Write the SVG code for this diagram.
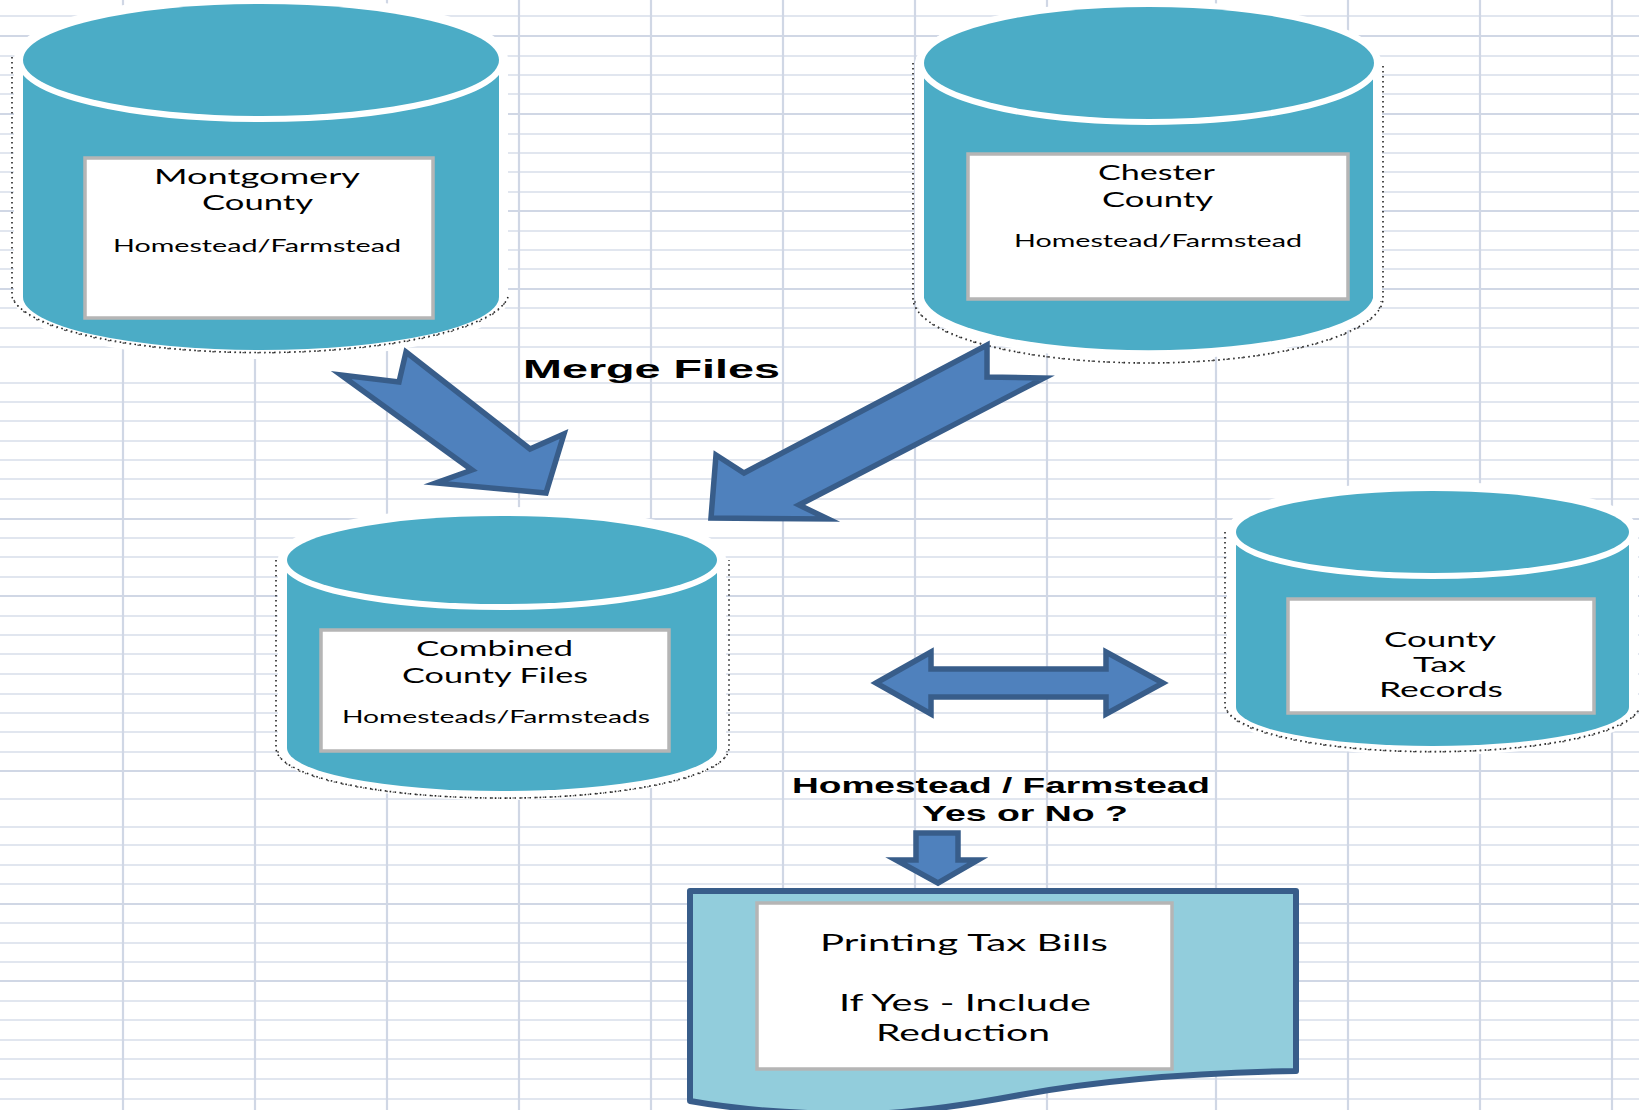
<svg xmlns="http://www.w3.org/2000/svg" width="1639" height="1110" viewBox="0 0 1639 1110">
<defs>
<style>
.gl{stroke:#D8DEEA;stroke-width:1.5;fill:none}
.gt{stroke:#D0D7E5;stroke-width:2.2;fill:none}
.halo{fill:#fff;stroke:#fff;stroke-width:18;stroke-linejoin:round}
.body{fill:#4BACC6}
.lid{fill:#4BACC6;stroke:#fff;stroke-width:12;paint-order:stroke}
.dots{fill:none;stroke:#222;stroke-width:1.6;stroke-dasharray:1.6 3.4}
.dots2{fill:none;stroke:#555;stroke-width:1.4;stroke-dasharray:2 5 1 7}
.box{fill:#fff;stroke:#B5B5B5;stroke-width:3.5}
.arrow{fill:#4F81BD;stroke:#385D8A;stroke-width:5.500;stroke-linejoin:miter;stroke-miterlimit:10}
.doc{fill:#92CDDC;stroke:#385D8A;stroke-width:6;stroke-linejoin:round}
.lbl{font-family:"Lato","Liberation Sans",sans-serif;fill:#000}
.l1{font-size:21px}
.l2{font-size:17px}
.l3{font-size:24px}
.head{font-family:"Liberation Sans",Arial,sans-serif;font-weight:700;fill:#000}
</style>
</defs>
<rect width="1639" height="1110" fill="#fff"/>
<g id="grid">
<path class="gl" d="M0,16H1639M0,56H1639M0,75H1639M0,94H1639M0,134H1639M0,153H1639M0,172H1639M0,192H1639M0,231H1639M0,250H1639M0,269H1639M0,308H1639M0,328H1639M0,347H1639M0,383H1639M0,402H1639M0,421H1639M0,441H1639M0,460H1639M0,479H1639M0,499H1639M0,538H1639M0,557H1639M0,577H1639M0,616H1639M0,635H1639M0,654H1639M0,674H1639M0,694H1639M0,713H1639M0,732H1639M0,752H1639M0,799H1639M0,827H1639M0,845H1639M0,865H1639M0,884H1639M0,923H1639M0,943H1639M0,962H1639M0,1001H1639M0,1020H1639M0,1040H1639M0,1059H1639M0,1079H1639M0,1099H1639"/>
<path class="gt" d="M0,36H1639M0,114H1639M0,211H1639M0,289H1639M0,519H1639M0,596H1639M0,771H1639M0,904H1639M0,981H1639M123,0V1110M255,0V1110M387,0V1110M519,0V1110M651,0V1110M783,0V1110M915,0V1110M1047,0V1110M1216,0V1110M1348,0V1110M1480,0V1110M1612,0V1110"/>
</g>
<g id="node-montgomery">
<path class="halo" d="M23,60A238,56 0 0 1 499,60V297A238,53 0 0 1 23,297Z"/>
<path class="dots" d="M12,57V297A249,61 0 0 0 508,297"/>
<path class="dots2" d="M14,300A247,58 0 0 0 506,300"/>
<path class="body" d="M23,60H499V297A238,53 0 0 1 23,297Z"/>
<ellipse class="lid" cx="261" cy="60" rx="238" ry="56"/>
<rect class="box" x="85" y="158" width="348" height="160"/>
<text class="lbl l1" x="154" y="184" textLength="206" lengthAdjust="spacingAndGlyphs">Montgomery</text>
<text class="lbl l1" x="202" y="210" textLength="111" lengthAdjust="spacingAndGlyphs">County</text>
<text class="lbl l2" x="113" y="252" textLength="288" lengthAdjust="spacingAndGlyphs">Homestead/Farmstead</text>
</g>
<g id="node-chester">
<path class="halo" d="M924,63A225,56 0 0 1 1373,63V298A225,56 0 0 1 924,298Z"/>
<path class="dots" d="M913,63V298A235,65 0 0 0 1383,298V63"/>
<path class="dots2" d="M915,301A233,62 0 0 0 1381,301"/>
<path class="body" d="M924,63H1373V298A225,56 0 0 1 924,298Z"/>
<ellipse class="lid" cx="1149" cy="63" rx="225" ry="56"/>
<rect class="box" x="968" y="154" width="380" height="145"/>
<text class="lbl l1" x="1098" y="180" textLength="117" lengthAdjust="spacingAndGlyphs">Chester</text>
<text class="lbl l1" x="1102" y="207" textLength="111" lengthAdjust="spacingAndGlyphs">County</text>
<text class="lbl l2" x="1014" y="247" textLength="288" lengthAdjust="spacingAndGlyphs">Homestead/Farmstead</text>
</g>
<g id="node-combined">
<path class="halo" d="M287,560A215,44 0 0 1 717,560V748A215,43 0 0 1 287,748Z"/>
<path class="dots" d="M276,560V748A226,50 0 0 0 729,748V560"/>
<path class="dots2" d="M278,751A224,47 0 0 0 727,751"/>
<path class="body" d="M287,560H717V748A215,43 0 0 1 287,748Z"/>
<ellipse class="lid" cx="502" cy="560" rx="215" ry="44"/>
<rect class="box" x="321" y="630" width="348" height="121"/>
<text class="lbl l1" x="416" y="656" textLength="157" lengthAdjust="spacingAndGlyphs">Combined</text>
<text class="lbl l1" x="402" y="683" textLength="186" lengthAdjust="spacingAndGlyphs">County Files</text>
<text class="lbl l2" x="342" y="723" textLength="308" lengthAdjust="spacingAndGlyphs">Homesteads/Farmsteads</text>
</g>
<g id="node-tax-records">
<path class="halo" d="M1236,532A196.500,41 0 0 1 1629,532V707A196.500,39 0 0 1 1236,707Z"/>
<path class="dots" d="M1225,532V707A208,48 0 0 0 1640,707"/>
<path class="dots2" d="M1227,710A206,45 0 0 0 1638,710"/>
<path class="body" d="M1236,532H1629V707A196.500,39 0 0 1 1236,707Z"/>
<ellipse class="lid" cx="1432.500" cy="532" rx="196.500" ry="41"/>
<rect class="box" x="1288" y="599" width="306" height="114"/>
<text class="lbl l1" x="1384" y="647" textLength="112" lengthAdjust="spacingAndGlyphs">County</text>
<text class="lbl l1" x="1413" y="672" textLength="53" lengthAdjust="spacingAndGlyphs">Tax</text>
<text class="lbl l1" x="1379" y="697" textLength="124" lengthAdjust="spacingAndGlyphs">Records</text>
</g>
<g id="node-printing">
<path class="doc" d="M690,891H1296V1071C1180,1073 1090,1082 1020,1095C950,1108 900,1114 860,1114C800,1114 740,1110 690,1101Z"/>
<rect class="box" x="757" y="903" width="415" height="166"/>
<text class="lbl l3" x="820" y="951" textLength="288" lengthAdjust="spacingAndGlyphs">Printing Tax Bills</text>
<text class="lbl l3" x="839" y="1011" textLength="252" lengthAdjust="spacingAndGlyphs">If Yes - Include</text>
<text class="lbl l3" x="876" y="1041" textLength="174" lengthAdjust="spacingAndGlyphs">Reduction</text>
</g>
<g id="connectors">
<polygon class="arrow" points="406,352 530,449 564,434 546,493 436,483 472,470 341,375 399,382"/>
<polygon class="arrow" points="987,345 987,377 1044,378 799,505 828,519 711,518 716,455 744,473"/>
<polygon class="arrow" points="876,683 931,652 931,669 1106,669 1106,652 1163,683 1106,714 1106,697 931,697 931,714"/>
<polygon class="arrow" points="916,833 958,833 958,860 978,860 938,883 896,860 916,860"/>
</g>
<g id="labels">
<text class="head" font-size="26" x="523" y="378" textLength="257" lengthAdjust="spacingAndGlyphs">Merge Files</text>
<text class="head" font-size="22" x="792" y="793" textLength="418" lengthAdjust="spacingAndGlyphs">Homestead / Farmstead</text>
<text class="head" font-size="22" x="922" y="821" textLength="206" lengthAdjust="spacingAndGlyphs">Yes or No ?</text>
</g>
</svg>
